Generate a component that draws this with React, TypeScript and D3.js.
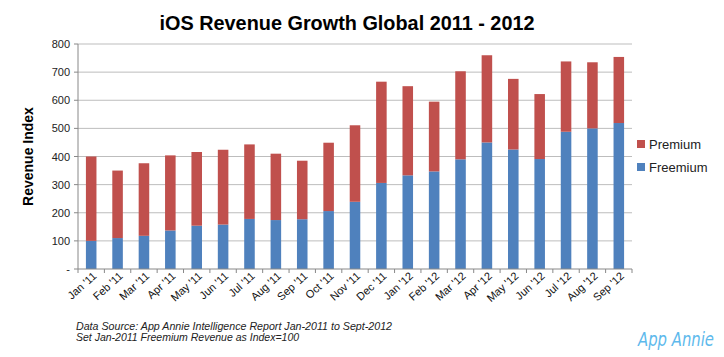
import React from "react";
import * as d3 from "d3";

const categories = ["Jan '11","Feb '11","Mar '11","Apr '11","May '11","Jun '11","Jul '11","Aug '11","Sep '11","Oct '11","Nov '11","Dec '11","Jan '12","Feb '12","Mar '12","Apr '12","May '12","Jun '12","Jul '12","Aug '12","Sep '12"];
const freemium = [100,110,118,137,154,158,178,174,177,206,239,306,333,347,390,450,425,391,488,500,519];
const totals = [400,350,376,404,416,424,443,410,385,449,511,666,650,595,703,760,676,622,738,735,754];
const premium = totals.map((t, i) => t - freemium[i]);
const yTicks = [0,100,200,300,400,500,600,700,800];
const seriesNames = ["Premium", "Freemium"];
const colors = { Premium: "#C0504D", Freemium: "#4F81BD" };

const W = 724, H = 357;
const M = { left: 78, right: 632, top: 44, bottom: 269 };
const FONT = "'Liberation Sans', Arial, Helvetica, sans-serif";

export default function App() {
  const x = d3.scaleBand<string>().domain(categories).range([M.left, M.right]).paddingInner(0.6).paddingOuter(0.3);
  const xb = d3.scaleBand<string>().domain(categories).range([M.left, M.right]);
  const y = d3.scaleLinear().domain([0, 800]).range([M.bottom, M.top]);

  const stackData = categories.map((c, i) => ({ cat: c, Freemium: freemium[i], Premium: premium[i] }));
  const stack = d3.stack<any>().keys(["Freemium", "Premium"])(stackData);

  return (
    <svg width={W} height={H} style={{ position: "absolute", left: 0, top: 0, background: "#fff" }} fontFamily={FONT}>
      <text x={347} y={30} textAnchor="middle" fontSize={20} fontWeight="bold" fill="#000" textLength={375} lengthAdjust="spacingAndGlyphs">iOS Revenue Growth Global 2011 - 2012</text>
      {yTicks.map(t => (
        <g key={t}>
          {t > 0 && <line x1={M.left} x2={M.right} y1={y(t)} y2={y(t)} stroke="#bdbdbd" strokeWidth={1} />}
          <line x1={M.left - 4} x2={M.left} y1={y(t)} y2={y(t)} stroke="#888" strokeWidth={1} />
          <text x={70} y={y(t) + 4} textAnchor="end" fontSize={11} fill="#222">{t === 0 ? "-" : t}</text>
        </g>
      ))}
      {stack.map(layer => (
        <g key={layer.key} fill={(colors as any)[layer.key]}>
          {layer.map((d, i) => (
            <rect key={i} x={x(categories[i])} width={x.bandwidth()} y={y(d[1])} height={y(d[0]) - y(d[1])} />
          ))}
        </g>
      ))}
      <line x1={M.left} x2={M.left} y1={M.top} y2={M.bottom} stroke="#888" />
      <line x1={M.left} x2={M.right} y1={M.bottom} y2={M.bottom} stroke="#888" />
      {categories.map((c, i) => (
        <line key={"t" + i} x1={xb(c)} x2={xb(c)} y1={M.bottom} y2={M.bottom + 4} stroke="#888" />
      ))}
      <line x1={M.right} x2={M.right} y1={M.bottom} y2={M.bottom + 4} stroke="#888" />
      {categories.map(c => {
        const cx = (xb(c) as number) + xb.bandwidth() / 2 + 6;
        const cy = M.bottom + 8;
        return (
          <text key={"l" + c} transform={`translate(${cx},${cy}) rotate(-42)`} textAnchor="end" fontSize={11} fill="#111">{c}</text>
        );
      })}
      <text transform={`translate(33,${(M.top + M.bottom) / 2}) rotate(-90)`} textAnchor="middle" fontSize={14} fontWeight="bold" fill="#000">Revenue Index</text>
      {seriesNames.map((s, i) => (
        <g key={s}>
          <rect x={637} y={140 + i * 23} width={8} height={8} fill={(colors as any)[s]} />
          <text x={649} y={148.5 + i * 23} fontSize={13} fill="#222">{s}</text>
        </g>
      ))}
      <text x={76} y={330} fontSize={10.5} fontStyle="italic" fill="#222" textLength={316} lengthAdjust="spacingAndGlyphs">Data Source: App Annie Intelligence Report Jan-2011 to Sept-2012</text>
      <text x={76} y={341} fontSize={10.5} fontStyle="italic" fill="#222">Set Jan-2011 Freemium Revenue as Index=100</text>
      <text x={676} y={346} textAnchor="middle" fontSize={19} fontStyle="italic" fill="#5DB9EC" fontFamily="'DejaVu Sans Condensed', 'Liberation Sans Narrow', sans-serif" textLength={76} lengthAdjust="spacingAndGlyphs">App Annie</text>
    </svg>
  );
}
